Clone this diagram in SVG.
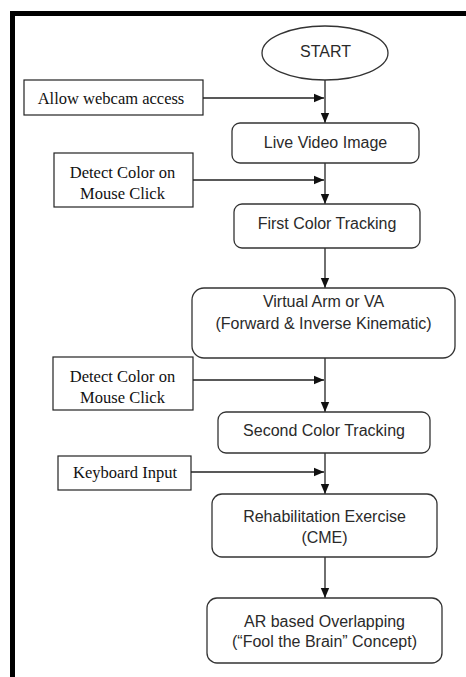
<svg xmlns="http://www.w3.org/2000/svg" width="466" height="677" viewBox="0 0 466 677">
<defs>
<marker id="ah" markerUnits="userSpaceOnUse" markerWidth="10" markerHeight="10" viewBox="0 0 10 10" refX="10" refY="5" orient="auto">
<path d="M0,0.8 L10,5 L0,9.2 Z" fill="#111"/>
</marker>
<style>
.proc{fill:#fff;stroke:#333;stroke-width:1.3}
.inp{fill:#fff;stroke:#222;stroke-width:1.2}
.st{font-family:"Liberation Sans",Arial,sans-serif;font-size:16px;fill:#2a2a2a;text-anchor:middle}
.sr{font-family:"Liberation Serif","Times New Roman",serif;font-size:16.5px;fill:#111;text-anchor:middle}
.c{fill:none;stroke:#222;stroke-width:1.3;marker-end:url(#ah)}
</style>
</defs>
<rect width="466" height="677" fill="#fff"/>
<path d="M12.5,677 V13.5 H466" fill="none" stroke="#000" stroke-width="5"/>
<g id="connectors">
<path class="c" d="M325,80 V123"/>
<path class="c" d="M203,98 H324"/>
<path class="c" d="M325,163 V204"/>
<path class="c" d="M193,180 H324"/>
<path class="c" d="M325,248 V288"/>
<path class="c" d="M325,358 V412"/>
<path class="c" d="M193,380 H324"/>
<path class="c" d="M325,453 V494"/>
<path class="c" d="M191,472 H324"/>
<path class="c" d="M325,557 V598"/>
</g>
<g id="start">
<ellipse class="proc" cx="325" cy="53" rx="63" ry="27"/>
<text class="st" x="325.5" y="56.5" style="font-size:16px">START</text>
</g>
<g id="webcam">
<rect class="inp" x="24" y="80" width="179" height="35"/>
<text class="sr" x="111" y="103.5">Allow webcam access</text>
</g>
<g id="live">
<rect class="proc" x="232" y="123" width="187" height="40" rx="8"/>
<text class="st" x="325.5" y="148">Live Video Image</text>
</g>
<g id="detect1">
<rect class="inp" x="54" y="153" width="139" height="54"/>
<text class="sr" x="122.5" y="177.5">Detect Color on</text>
<text class="sr" x="122.5" y="198.5">Mouse Click</text>
</g>
<g id="first">
<rect class="proc" x="234" y="204" width="186" height="44" rx="8"/>
<text class="st" x="327" y="229">First Color Tracking</text>
</g>
<g id="virtual">
<rect class="proc" x="192" y="288" width="263" height="70" rx="12"/>
<text class="st" x="323.5" y="307">Virtual Arm or VA</text>
<text class="st" x="323.5" y="329">(Forward &amp; Inverse Kinematic)</text>
</g>
<g id="detect2">
<rect class="inp" x="53" y="357" width="140" height="53"/>
<text class="sr" x="122.5" y="381.5">Detect Color on</text>
<text class="sr" x="122.5" y="402.5">Mouse Click</text>
</g>
<g id="second">
<rect class="proc" x="218" y="412" width="212" height="41" rx="8"/>
<text class="st" x="324" y="436">Second Color Tracking</text>
</g>
<g id="keyboard">
<rect class="inp" x="58" y="456" width="133" height="34"/>
<text class="sr" x="125" y="477.5">Keyboard Input</text>
</g>
<g id="rehab">
<rect class="proc" x="212" y="494" width="225" height="63" rx="10"/>
<text class="st" x="324.5" y="522">Rehabilitation Exercise</text>
<text class="st" x="324.5" y="543">(CME)</text>
</g>
<g id="ar">
<rect class="proc" x="207" y="598" width="235" height="65" rx="10"/>
<text class="st" x="324.5" y="627">AR based Overlapping</text>
<text class="st" x="324.5" y="647">(“Fool the Brain” Concept)</text>
</g>
</svg>
